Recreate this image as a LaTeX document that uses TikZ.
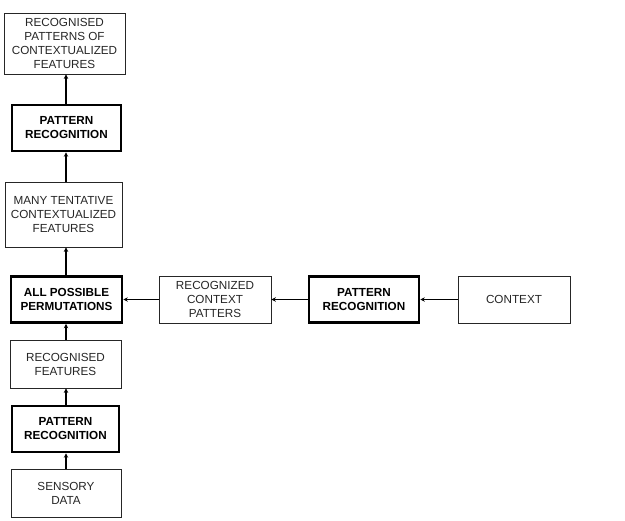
\documentclass[tikz,border=0pt]{standalone}
\usepackage{fontspec}
\setmainfont{Liberation Sans}
\usetikzlibrary{arrows.meta}
\begin{document}
\begin{tikzpicture}[x=1pt,y=-1pt,
  box/.style={draw=black!85, line width=0.8pt, align=center, inner sep=0pt,
    font=\fontsize{11.7}{14}\selectfont, text=black!85},
  bbox/.style={draw=black, line width=2.6pt, align=center, inner sep=0pt,
    font=\fontsize{11.7}{14}\selectfont\bfseries},
  conn/.style={line width=1.5pt, -{Stealth[length=4.5pt,width=4.5pt]}}]
\useasboundingbox (0,0) rectangle (625,521);
\node[box, minimum width=121, minimum height=61] (n1) at (64.5,43.5) {RECOGNISED\\PATTERNS OF\\CONTEXTUALIZED\\FEATURES};
\node[bbox, minimum width=109, minimum height=46] (n2) at (66.5,128) {PATTERN\\RECOGNITION};
\node[box, minimum width=117, minimum height=65] (n3) at (63.5,214.5) {MANY TENTATIVE\\CONTEXTUALIZED\\FEATURES};
\node[bbox, minimum width=111, minimum height=46] (n4) at (66.5,299.5) {ALL POSSIBLE\\PERMUTATIONS};
\node[box, minimum width=111, minimum height=48] (n5) at (65.5,364) {RECOGNISED\\FEATURES};
\node[bbox, minimum width=107, minimum height=46] (n6) at (65.5,429) {PATTERN\\RECOGNITION};
\node[box, minimum width=110, minimum height=48] (n7) at (66,493) {SENSORY\\DATA};
\node[box, minimum width=112, minimum height=47] (c1) at (215,299.5) {RECOGNIZED\\CONTEXT\\PATTERS};
\node[bbox, minimum width=110, minimum height=46] (c2) at (364,299.5) {PATTERN\\RECOGNITION};
\node[box, minimum width=112, minimum height=47] (c3) at (514,299.5) {CONTEXT};
\draw[conn] (n7.north -| 66,0) -- (n6.south -| 66,0);
\draw[conn] (n6.north -| 66,0) -- (n5.south -| 66,0);
\draw[conn] (n5.north -| 66,0) -- (n4.south -| 66,0);
\draw[conn] (n4.north -| 66,0) -- (n3.south -| 66,0);
\draw[conn] (n3.north -| 66,0) -- (n2.south -| 66,0);
\draw[conn] (n2.north -| 66,0) -- (n1.south -| 66,0);
\draw[conn] (c3.west) -- (c2.east);
\draw[conn] (c2.west) -- (c1.east);
\draw[conn] (c1.west) -- (n4.east);
\end{tikzpicture}
\end{document}
